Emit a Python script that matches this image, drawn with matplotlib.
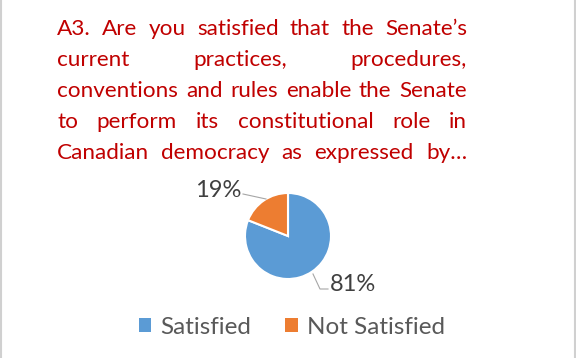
import matplotlib
matplotlib.use("Agg")
import matplotlib.pyplot as plt
from matplotlib.lines import Line2D
from matplotlib.patches import Patch

title_lines = [
    "A3. Are you satisfied that the Senate\u2019s",
    "current practices, procedures,",
    "conventions and rules enable the Senate",
    "to perform its constitutional role in",
    "Canadian democracy as expressed by\u2026",
]
categories = ["Satisfied", "Not Satisfied"]
values = [81, 19]
colors = ["#5B9BD5", "#ED7D31"]

W, H = 576, 358
fig = plt.figure(figsize=(W / 100, H / 100), dpi=100)
fig.patch.set_facecolor("white")

# side borders
fig.add_artist(Line2D([0.5 / W, 0.5 / W], [0, 1], color="#D0D0D0", lw=1.5, transform=fig.transFigure))
fig.add_artist(Line2D([1 - 1.5 / W, 1 - 1.5 / W], [0, 1], color="#D0D0D0", lw=1.5, transform=fig.transFigure))

# justified title
renderer = fig.canvas.get_renderer()
x_left, x_right = 57, 467
baselines = [35, 66, 97, 128, 159]
tfont = dict(family="Lato", size=16.2, color="#C00000")
for line, yb in zip(title_lines, baselines):
    words = line.split(" ")
    texts = []
    widths = []
    for w in words:
        t = fig.text(0, 1 - yb / H, w, va="baseline", ha="left", **tfont)
        bb = t.get_window_extent(renderer)
        texts.append(t)
        widths.append(bb.width)
    gap = (x_right - x_left - sum(widths)) / max(len(words) - 1, 1)
    x = x_left
    for t, wdt in zip(texts, widths):
        t.set_x(x / W)
        x += wdt + gap

# pie
cx, cy, r = 288, 236, 43
ax = fig.add_axes([(cx - r) / W, 1 - (cy + r) / H, 2 * r / W, 2 * r / H])
wedges, _ = ax.pie(values, colors=colors, startangle=90, counterclock=False,
                   wedgeprops=dict(edgecolor="white", linewidth=1.5))
ax.set_aspect("equal")
ax.set_xlim(-1, 1)
ax.set_ylim(-1, 1)
ax.axis("off")

lab_color = "#404040"
lfont = dict(family="Lato", size=17, color=lab_color)
# 19% label with leader
fig.text(241 / W, 1 - 197 / H, f"{values[1]}%", ha="right", va="baseline", **lfont)
fig.add_artist(Line2D([243 / W, 266 / W], [1 - 194 / H, 1 - 199 / H], color="#A6A6A6", lw=0.8,
                      transform=fig.transFigure))
# 81% label with leader
fig.text(330 / W, 1 - 291 / H, f"{values[0]}%", ha="left", va="baseline", **lfont)
fig.add_artist(Line2D([313 / W, 320 / W, 328 / W], [1 - 274 / H, 1 - 289 / H, 1 - 289 / H],
                      color="#A6A6A6", lw=0.8, transform=fig.transFigure))

# legend
handles = [Patch(facecolor=c, edgecolor="none") for c in colors]
leg = fig.legend(handles, categories, loc="center", bbox_to_anchor=(292 / W, 1 - 327 / H),
                 ncol=2, frameon=False, handlelength=0.5, handleheight=0.5,
                 handletextpad=0.4, columnspacing=1.4,
                 prop=dict(family="Lato", size=17.5))
for t in leg.get_texts():
    t.set_color("#595959")

fig.savefig("out.png", dpi=100, facecolor="white")
